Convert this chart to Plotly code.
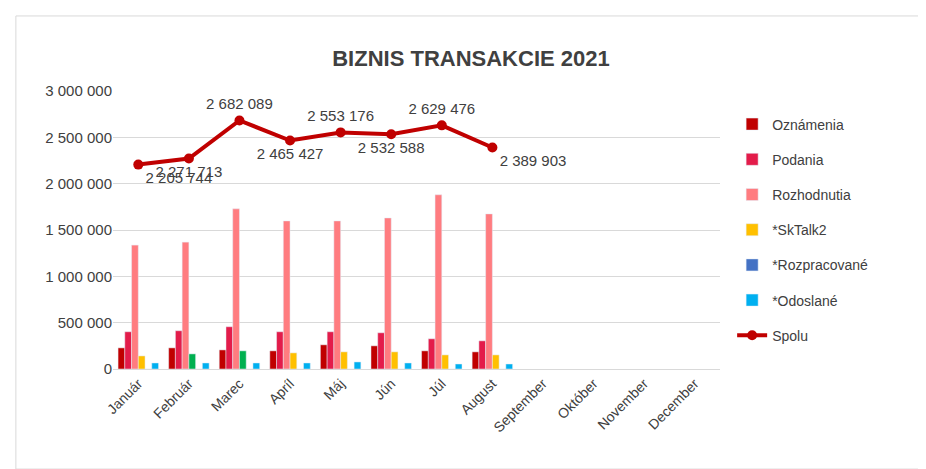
import plotly.graph_objects as go

months = ["Január", "Február", "Marec", "Apríl", "Máj", "Jún", "Júl", "August",
          "September", "Október", "November", "December"]
oznamenia = [228000, 228000, 206000, 196000, 261000, 250000, 196000, 185000]
podania = [402000, 413000, 456000, 402000, 402000, 391000, 326000, 304000]
rozhodnutia = [1337000, 1369000, 1728000, 1598000, 1598000, 1630000, 1880000, 1674000]
sktalk2 = [141000, 163000, 196000, 174000, 185000, 185000, 152000, 152000]
rozpracovane = [0, 0, 0, 0, 0, 0, 0, 0]
odoslane = [65000, 65000, 65000, 65000, 76000, 65000, 54000, 54000]
spolu = [2205744, 2271713, 2682089, 2465427, 2553176, 2532588, 2629476, 2389903]

sk_colors = ["#FFC000", "#00B050", "#00B050", "#FFC000", "#FFC000", "#FFC000", "#FFC000", "#FFC000"]

def fmt(v):
    return f"{v:,}".replace(",", " ")

fig = go.Figure()
bars = [("Oznámenia", oznamenia, "#C00000"), ("Podania", podania, "#E31C4A"),
        ("Rozhodnutia", rozhodnutia, "#FF7C80"), ("*SkTalk2", sktalk2, "#FFC000"),
        ("*Rozpracované", rozpracovane, "#4472C4"), ("*Odoslané", odoslane, "#00B0F0")]
for i, (name, vals, col) in enumerate(bars):
    mc = sk_colors if name == "*SkTalk2" else col
    fig.add_trace(go.Bar(x=months[:len(vals)], y=vals, name=name, marker_color=mc,
                         legendgroup=str(i)))

fig.add_trace(go.Scatter(
    x=months[:len(spolu)], y=spolu, name="Spolu", mode="lines+markers+text",
    line=dict(color="#C00000", width=4), marker=dict(size=10, color="#C00000"),
    text=[fmt(v) for v in spolu], cliponaxis=False,
    textposition=["bottom right", "bottom center", "top center", "bottom center",
                  "top center", "bottom center", "top center", "bottom right"],
    textfont=dict(size=15, color="#404040"), legendgroup="9"))
fig.add_trace(go.Scatter(x=months, y=[None]*12, showlegend=False, hoverinfo="skip"))

fig.update_layout(
    width=926, height=469, paper_bgcolor="white", plot_bgcolor="white",
    font=dict(family="Liberation Sans", color="#404040", size=14),
    title=dict(text="<b>BIZNIS TRANSAKCIE 2021</b>", x=0.5, xanchor="center", y=0.91,
               font=dict(size=22, color="#404040")),
    margin=dict(l=105, r=214, t=83, b=108),
    barmode="group", bargap=0.2, bargroupgap=0,
    legend=dict(x=1.02, y=0.5, yanchor="middle", tracegroupgap=14,
                font=dict(size=14, color="#404040")),
    xaxis=dict(categoryorder="array", categoryarray=months, range=[-0.5, 11.5],
               tickangle=-45, showline=True, linecolor="#D9D9D9", ticks="",
               automargin=False, tickfont=dict(size=14)),
    yaxis=dict(range=[0, 3000000], dtick=500000, tickformat=",",
               gridcolor="#D9D9D9", zeroline=False, automargin=False,
               tickfont=dict(size=15)),
    separators=". ",
    shapes=[dict(type="rect", xref="paper", yref="paper", x0=-0.16, x1=1.339,
                 y0=-0.36, y1=1.27, line=dict(color="#D9D9D9", width=1))],
)
fig.write_html("out.html")
